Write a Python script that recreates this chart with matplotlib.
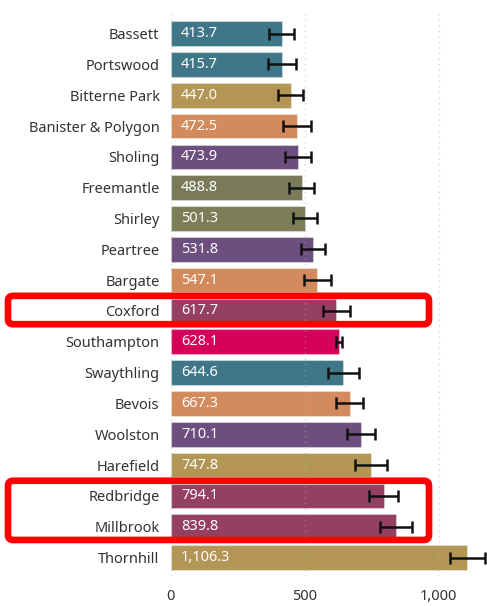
import matplotlib
matplotlib.use("Agg")
import matplotlib.pyplot as plt
from matplotlib.patches import FancyBboxPatch
from matplotlib.transforms import IdentityTransform
from matplotlib.ticker import FuncFormatter

plt.rcParams["font.family"] = ["Noto Sans", "DejaVu Sans"]

areas = [
    "Bassett", "Portswood", "Bitterne Park", "Banister & Polygon", "Sholing",
    "Freemantle", "Shirley", "Peartree", "Bargate", "Coxford", "Southampton",
    "Swaythling", "Bevois", "Woolston", "Harefield", "Redbridge", "Millbrook",
    "Thornhill",
]
values = [413.7, 415.7, 447.0, 472.5, 473.9, 488.8, 501.3, 531.8, 547.1, 617.7,
          628.1, 644.6, 667.3, 710.1, 747.8, 794.1, 839.8, 1106.3]
errors = [48, 51, 45, 52, 49, 46, 44, 45, 50, 51, 12, 58, 50, 51, 59, 55, 60, 65]
colors = [
    "#3f7789", "#3f7789", "#b39656", "#d38b5d", "#6c4f7f", "#787a58", "#7b7e56",
    "#6c4f7f", "#d38b5d", "#953f62", "#d5005a", "#3f7789", "#d38b5d", "#6c4f7f",
    "#b39656", "#953f62", "#953f62", "#b39656",
]
highlight_groups = [["Coxford"], ["Redbridge", "Millbrook"]]

W, H, DPI = 487, 606, 100
fig = plt.figure(figsize=(W / DPI, H / DPI), dpi=DPI)
ax = fig.add_axes([170.7 / W, 30 / H, (W - 170.7) / W, 564 / H])

ypos = list(range(len(areas)))
ax.barh(ypos, values, height=0.8, color=colors, edgecolor=(1, 1, 1, 0.35),
        linewidth=0.8, zorder=2)
ax.errorbar(values, ypos, xerr=errors, fmt="none", ecolor="#111111",
            elinewidth=1.8, capsize=4, capthick=1.8, zorder=4)

# value labels sit inside the bar, a fixed offset from the baseline
for y, v in zip(ypos, values):
    ax.annotate(f"{v:,.1f}", xy=(0, y), xytext=(7.5, 0),
                textcoords="offset points", color="white", fontsize=10.5,
                va="center", ha="left", zorder=5)

ax.set_xlim(0, 1180)
ax.set_ylim(17.6, -0.7)
ax.set_yticks(ypos)
ax.set_yticklabels(areas, fontsize=10.5, color="#333333")
ax.set_xticks([0, 500, 1000])
ax.xaxis.set_major_formatter(FuncFormatter(lambda x, _: f"{x:,.0f}"))
ax.tick_params(axis="x", labelsize=10.5, colors="#333333", length=0, pad=9)
ax.tick_params(axis="y", length=0, pad=8)
ax.grid(axis="x", color="#b0b0b0", linestyle=(0, (1, 3)), linewidth=1,
        alpha=0.5, zorder=3)
ax.set_axisbelow(False)
for s in ax.spines.values():
    s.set_visible(False)

# red highlight boxes, spanning label column and most of the plot
fig.canvas.draw()
for group in highlight_groups:
    i0 = areas.index(group[0])
    i1 = areas.index(group[-1])
    _, y_top = ax.transData.transform((0, i0 - 0.49))
    _, y_bot = ax.transData.transform((0, i1 + 0.43))
    x0, x1 = 8, 429
    box = FancyBboxPatch((x0, y_bot), x1 - x0, y_top - y_bot,
                         boxstyle="round,pad=0,rounding_size=5",
                         transform=IdentityTransform(), fill=False,
                         edgecolor="#ff0000", linewidth=4.8, zorder=10)
    fig.patches.append(box)

fig.savefig("out.png", dpi=DPI)
plt.close(fig)
